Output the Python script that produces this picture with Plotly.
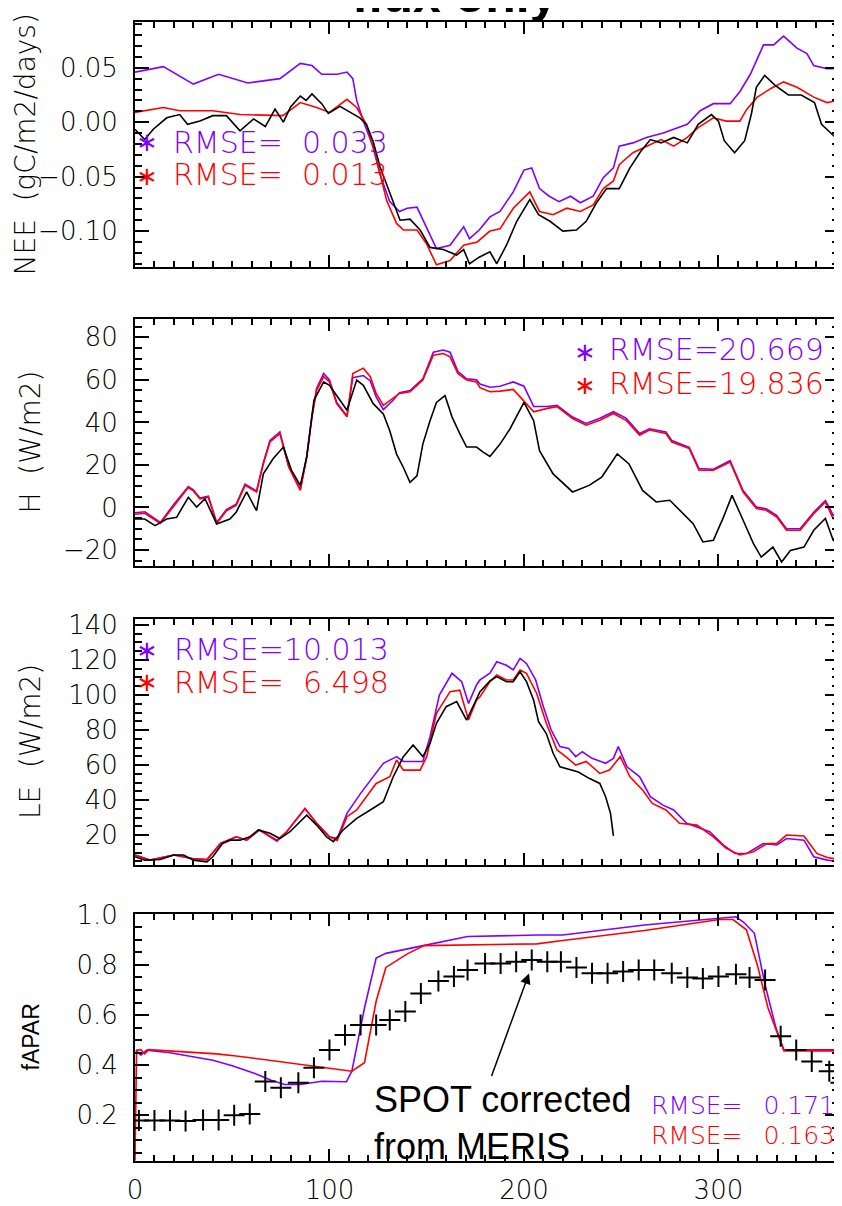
import plotly.graph_objects as go

# ---------------- data ----------------
# Panel 1: NEE (gC/m2/days)
nee_obs_day = [0, 5, 9.4, 16.3, 23, 27, 33.4, 40, 47, 54, 61, 67, 72, 76.3, 80, 85, 88, 91, 96, 99.4, 105.4,
               110.5, 115.6, 119, 122.5, 126, 129.4, 132.8, 136.3, 141.4, 146.6, 151.7, 158.5, 165.4, 169, 172,
               177, 182.5, 186, 191, 196.3, 203, 207.5, 213.4, 220, 227, 232, 237.3, 242.5, 249, 254.5, 260,
               265, 270.5, 277, 284, 289.6, 296.4, 300, 303, 308.3, 313.5, 317, 319.5, 323.8, 329, 336, 342.6,
               349.4, 353, 357.6, 362]
nee_obs = [-0.0065, -0.016, -0.0065, 0.004, 0.007, -0.002, 0.001, 0.006, 0.006, -0.008, 0.003, -0.004, 0.012,
           0.0, 0.014, 0.024, 0.020, 0.026, 0.017, 0.008, 0.0145, 0.009, 0.004, -0.002, -0.018, -0.041, -0.057,
           -0.072, -0.090, -0.089, -0.099, -0.115, -0.117, -0.122, -0.117, -0.130, -0.124, -0.119, -0.130,
           -0.113, -0.091, -0.071, -0.085, -0.091, -0.100, -0.099, -0.091, -0.074, -0.061, -0.061, -0.042,
           -0.027, -0.016, -0.019, -0.014, -0.019, -0.002, 0.007, 0.001, -0.017, -0.028, -0.017, 0.008, 0.032,
           0.043, 0.034, 0.025, 0.025, 0.018, -0.002, -0.010, -0.017]
nee_a_day = [0, 14.6, 30, 43, 58, 74.5, 85, 91, 96, 104, 109, 112, 114, 117.4, 122.5, 126, 131, 136, 140, 145,
             150, 155, 162, 169, 172, 177, 182.5, 187.7, 194.5, 200, 204, 208, 213, 218, 224, 229, 235.6,
             240.8, 246, 249, 256, 263, 271.6, 277, 284, 290.6, 297.4, 306, 311, 316.4, 323.2, 328.4, 333.5,
             340.4, 345.5, 349, 355.8, 362]
nee_a = [0.046, 0.051, 0.035, 0.044, 0.036, 0.040, 0.054, 0.052, 0.044, 0.044, 0.046, 0.040, 0.020, 0.001,
         -0.023, -0.048, -0.073, -0.082, -0.079, -0.078, -0.097, -0.116, -0.113, -0.096, -0.107, -0.099,
         -0.087, -0.082, -0.064, -0.044, -0.042, -0.061, -0.068, -0.073, -0.068, -0.074, -0.068, -0.051,
         -0.042, -0.022, -0.019, -0.014, -0.010, -0.0065, -0.002, 0.0105, 0.017, 0.017, 0.028, 0.044, 0.071,
         0.071, 0.079, 0.068, 0.063, 0.052, 0.049, 0.049]
nee_b_day = [0, 14.6, 23, 40, 54, 69.4, 76, 85, 93.4, 100, 109, 114, 119, 124, 129.4, 134.5, 138, 145, 150,
             155, 162, 169, 176, 182.5, 187.7, 194.5, 203, 208, 215, 222, 229, 235.6, 240.8, 246, 249, 256,
             263, 270.5, 277, 284, 289.6, 297.4, 304, 311, 314.6, 320, 327, 333.5, 340.4, 349, 355.8, 362]
nee_b = [0.009, 0.0135, 0.0105, 0.0105, 0.007, 0.006, 0.006, 0.018, 0.0135, 0.009, 0.021, 0.0135, -0.002,
         -0.033, -0.072, -0.093, -0.099, -0.099, -0.112, -0.131, -0.127, -0.113, -0.110, -0.100, -0.098,
         -0.079, -0.064, -0.082, -0.085, -0.079, -0.082, -0.076, -0.061, -0.054, -0.039, -0.028, -0.022,
         -0.016, -0.022, -0.014, -0.005, 0.004, 0.001, 0.001, 0.012, 0.023, 0.031, 0.037, 0.032, 0.023,
         0.018, 0.020]

# Panel 2: H (W/m2)
h_day = [0, 5.1, 13, 20, 27.4, 30, 33.4, 37.7, 42, 47, 52, 56.6, 62.5, 66, 69.4, 74.5, 79, 85, 88.3, 91, 93.4,
         97, 100, 103.7, 109, 112, 117.4, 121, 124, 127.7, 132.8, 136, 141.4, 148, 153.4, 158.5, 162, 166,
         170.5, 175.6, 177.4, 182.5, 187.7, 194.5, 200, 205, 212, 217, 225, 232, 239, 246, 252.5, 259.5,
         264.5, 273, 276, 285, 290, 297.4, 306, 312.7, 319.5, 324.6, 330, 335, 342, 349, 355, 359, 362]
h_b = [-3.2, -2.7, -7.5, 0.7, 9.4, 7.8, 4.0, 4.8, -7.5, -1.5, 1.0, 10.4, 7.3, 20.6, 30.8, 34.7, 19.0, 8.0,
       23.7, 42.6, 55.0, 61.5, 59.0, 48.8, 42.6, 63.0, 65.5, 61.5, 53.6, 48.0, 51.2, 53.6, 54.4, 59.9, 71.6,
       72.4, 70.8, 63.0, 59.9, 59.0, 56.3, 54.4, 54.7, 55.5, 50.0, 45.0, 46.6, 47.4, 41.8, 38.7, 41.0, 44.2,
       41.0, 34.0, 36.4, 34.8, 30.8, 27.7, 17.5, 17.5, 21.4, 7.3, -0.5, -1.3, -4.5, -10.7, -10.7, -2.9, 2.6,
       -5.2, -6.0]
h_a = [-2.5, -2.0, -7.0, 1.5, 9.8, 8.3, 4.5, 5.3, -7.0, -1.0, 1.5, 11.0, 7.8, 21.0, 31.5, 35.5, 19.5, 8.5,
       24.0, 43.0, 56.0, 63.0, 60.0, 49.5, 43.0, 61.0, 62.0, 59.5, 52.0, 46.0, 50.5, 54.0, 55.0, 60.5, 73.0,
       74.0, 73.0, 64.0, 60.5, 60.0, 58.0, 56.5, 57.0, 59.0, 57.0, 47.5, 47.5, 48.0, 42.5, 39.5, 42.0, 45.0,
       42.0, 34.8, 37.0, 35.5, 31.5, 28.3, 18.3, 18.0, 22.0, 8.0, 0.2, -0.6, -3.8, -10.0, -10.0, -2.2, 3.3,
       -3.6, -3.6]
h_obs_day = [0, 5, 10.3, 16.3, 21.4, 27.4, 31.7, 36, 42, 48.8, 52, 57.4, 62.5, 66, 71, 76.3, 80.5, 85, 88.3,
             92, 97, 100, 105.4, 109, 114, 117.4, 122.5, 127.7, 131, 134.5, 138, 141.4, 145, 148, 151.7, 155,
             159.4, 163, 167, 170.5, 175.6, 179, 182.5, 187.7, 192.8, 200, 205, 208, 215, 225, 233.5, 240,
             248, 254, 261, 268, 275, 280, 287, 292, 297.4, 302.6, 307, 312.7, 318, 322, 328, 332.5, 337, 344,
             349, 355, 359, 362]
h_obs = [-5.4, -5.4, -8.5, -5.4, -4.6, 4.8, 0.2, 4.1, -7.7, -5.4, -2.2, 7.3, -1.5, 15.8, 22.9, 28.4, 17.4,
         10.4, 23.7, 50.4, 59.0, 57.4, 50.4, 45.7, 59.9, 57.4, 48.8, 44.0, 36.1, 25.1, 18.8, 11.8, 14.9, 29.8,
         40.8, 49.4, 52.6, 42.6, 34.7, 28.4, 28.4, 26.0, 24.0, 29.8, 36.9, 49.4, 40.8, 26.7, 15.8, 7.3, 10.4,
         14.3, 25.2, 20.5, 8.0, 2.6, 3.4, -1.3, -7.6, -16.2, -15.4, -4.5, 5.7, -6.0, -17.0, -23.3, -18.6,
         -25.6, -20.2, -18.6, -10.7, -5.2, -15.4, -17.0]

# Panel 3: LE (W/m2)
le_obs_day = [0, 5, 13, 20, 25, 30, 37, 40, 45, 49, 54, 59, 63.4, 69.4, 74.5, 79.7, 88.3, 93.4, 98.5, 102, 107,
              114, 121, 127.7, 132.8, 138, 143, 148, 151.7, 155, 160, 165.4, 170.5, 175.6, 177.4, 182.5, 186,
              191, 194.5, 198, 201.3, 205, 207.5, 211.5, 215, 218.5, 225, 228, 233.5, 239, 242, 244.5, 246]
le_obs = [7.6, 5.7, 6.0, 8.6, 8.6, 5.7, 4.7, 7.6, 15.2, 17.1, 17.1, 19.0, 22.9, 21.0, 18.0, 21.9, 31.4, 25.7,
          19.0, 16.2, 22.9, 29.5, 34.3, 39.0, 53.3, 64.8, 71.4, 64.8, 72.4, 83.8, 93.3, 96.2, 85.7, 98.0,
          101.9, 108.0, 110.5, 107.6, 107.6, 113.3, 107.6, 97.0, 84.8, 78.0, 66.7, 59.0, 57.1, 56.0, 52.4, 49.5,
          41.9, 32.4, 19.5]
le_b_day = [0, 7.7, 20, 30, 37, 44, 52, 57.4, 64, 73, 78, 87.4, 93.4, 100, 104, 109, 114, 119, 124, 131, 134.5,
            138, 146.6, 150, 155, 162, 167, 171.5, 175.6, 177.4, 182.5, 186, 191, 194.5, 198, 201.3, 206.5,
            211.5, 217, 221.5, 226.6, 232, 239, 244, 249.5, 254.5, 261, 266, 273, 280, 289, 297.4, 304, 311,
            318, 325, 330, 335, 344, 350.6, 356, 362]
le_b = [8.6, 5.7, 8.6, 6.5, 6.0, 15.2, 19.0, 17.1, 22.9, 17.1, 21.9, 35.2, 26.7, 19.0, 17.0, 30.5, 34.3, 41.9,
        49.5, 53.3, 62.9, 57.1, 57.1, 64.8, 89.5, 101.9, 102.8, 85.7, 97.0, 99.0, 107.6, 111.4, 108.6, 108.6,
        114.3, 112.4, 101.0, 83.8, 68.6, 64.8, 60.0, 62.0, 55.2, 57.1, 64.8, 53.3, 45.7, 38.1, 34.3, 26.7,
        25.7, 19.0, 12.4, 8.6, 10.5, 15.2, 15.2, 20.0, 19.5, 9.5, 7.2, 6.0]
le_a_day = [0, 7.7, 20, 30, 37, 44, 52, 57.4, 64, 73, 78, 87.4, 93.4, 100, 104, 109, 116, 121, 127.7, 134.5,
            138, 148, 151.7, 156.5, 163, 168, 171.5, 175.6, 177.4, 182.5, 186, 191, 194.5, 198, 201.3, 206, 210,
            214, 218.5, 223, 226.6, 230, 235, 242, 246, 248.5, 253, 259.5, 265, 271.5, 277, 283.7, 295.5,
            302.6, 308.5, 314.6, 323, 330, 335, 344, 349, 356, 362]
le_a = [8.6, 5.7, 8.6, 6.5, 6.0, 15.2, 19.0, 17.1, 22.9, 16.5, 21.9, 35.2, 26.7, 19.0, 18.0, 32.4, 43.8, 51.4,
        61.0, 64.8, 62.0, 62.0, 76.2, 100.0, 112.4, 107.6, 95.2, 105.7, 108.6, 112.4, 119.0, 117.0, 114.3,
        120.9, 118.0, 108.6, 93.3, 80.0, 70.5, 69.5, 64.8, 67.6, 63.8, 61.0, 63.8, 70.5, 59.0, 53.3, 41.9,
        37.1, 34.3, 26.7, 21.9, 14.3, 9.5, 9.5, 15.2, 14.3, 18.0, 17.1, 7.6, 5.7, 4.8]

# Panel 4: fAPAR
fa_a_day = [0.5, 3, 6, 18, 40, 50, 62, 70, 77, 85, 96, 108.7, 111.5, 118, 124, 129, 145.7, 171, 206.6, 220, 262,
            289.6, 309, 313, 318.5, 324, 329.6, 333.7, 362]
fa_a = [0.46, 0.44, 0.46, 0.45, 0.42, 0.398, 0.366, 0.34, 0.323, 0.323, 0.336, 0.334, 0.376, 0.628, 0.827,
        0.846, 0.873, 0.913, 0.919, 0.919, 0.959, 0.979, 0.992, 0.97, 0.926, 0.72, 0.548, 0.461, 0.461]
fa_b_day = [0, 0.8, 3, 5, 7, 30, 42, 52, 61, 96, 111.5, 118, 124, 129, 140, 148.7, 206.6, 220, 262, 300.5, 307.5,
            314.4, 320, 325.5, 331, 333.7, 362]
fa_b = [0.02, 0.46, 0.462, 0.445, 0.462, 0.452, 0.445, 0.437, 0.428, 0.39, 0.376, 0.41, 0.655, 0.79, 0.844,
        0.877, 0.884, 0.897, 0.937, 0.981, 0.981, 0.94, 0.80, 0.628, 0.508, 0.457, 0.457]
fa_obs_day = [2, 10, 18, 26, 35, 43, 51, 59, 67, 75, 84, 92, 100, 108, 116, 124, 131, 139, 147, 156, 164, 171,
              180, 188, 196, 204, 212, 219, 227, 235, 243, 251, 259, 267, 276, 284, 292, 300, 309, 316, 324,
              332, 340, 348, 357, 363]
fa_obs = [0.18, 0.18, 0.18, 0.178, 0.182, 0.182, 0.2, 0.205, 0.335, 0.31, 0.33, 0.39, 0.461, 0.52, 0.56, 0.56,
          0.58, 0.614, 0.686, 0.736, 0.754, 0.78, 0.806, 0.806, 0.813, 0.82, 0.813, 0.813, 0.79, 0.767, 0.767,
          0.774, 0.78, 0.78, 0.767, 0.75, 0.746, 0.754, 0.763, 0.75, 0.74, 0.515, 0.461, 0.415, 0.376, 0.33]

x_ticks = [0, 100, 200, 300]
rmse_labels = [["RMSE=\u20070.033", "RMSE=\u20070.013"],
               ["RMSE=20.669", "RMSE=19.836"],
               ["RMSE=10.013", "RMSE=\u20076.498"],
               ["RMSE=\u2007\u20090.171", "RMSE=\u2007\u20090.163"]]
y_titles = ["NEE\u00a0\u00a0(gC/m2/days)", "H\u00a0\u00a0(W/m2)", "LE\u00a0\u00a0(W/m2)", "fAPAR"]

# ---------------- styling ----------------
PAGE_OFF = 8            # default body margin of the html page
W, H = 842 - PAGE_OFF, 1206 - PAGE_OFF
PURPLE = "#7f00ff"
RED = "#ff0000"
HFONT = "DejaVu Sans"
AFONT = "Liberation Sans, Arial, sans-serif"
X_LEFT, X_RIGHT = 135, 839
PANELS = [(22, 267), (319, 566), (619, 865), (914, 1161)]
Y_RANGES = [[-0.133, 0.092], [-27.5, 88.6], [2.9, 143.4], [0.018, 1.003]]
Y_DTICK = [0.05, 20, 20, 0.2]
Y_MINOR = [0.01, 5, 5, 0.05]
Y_FMT = [".2f", "d", "d", ".1f"]


def fx(p):
    return (p - PAGE_OFF) / W


def fy(p):
    return 1 - (p - PAGE_OFF) / H


fig = go.Figure()
line_w = 1.6
series = [
    [(nee_a_day, nee_a, PURPLE), (nee_b_day, nee_b, RED), (nee_obs_day, nee_obs, "black")],
    [(h_day, h_a, PURPLE), (h_day, h_b, RED), (h_obs_day, h_obs, "black")],
    [(le_a_day, le_a, PURPLE), (le_b_day, le_b, RED), (le_obs_day, le_obs, "black")],
    [(fa_a_day, fa_a, PURPLE), (fa_b_day, fa_b, RED)],
]
for i, group in enumerate(series):
    sfx = "" if i == 0 else str(i + 1)
    for xs, ys, col in group:
        fig.add_trace(go.Scatter(x=xs, y=ys, mode="lines", line=dict(color=col, width=line_w),
                                 xaxis="x" + sfx, yaxis="y" + sfx, showlegend=False, hoverinfo="skip"))
fig.add_trace(go.Scatter(x=fa_obs_day, y=fa_obs, mode="markers", xaxis="x4", yaxis="y4", showlegend=False,
                         marker=dict(symbol="cross-thin-open", size=15, color="black",
                                     line=dict(color="black", width=2)), hoverinfo="skip"))

tick_font = dict(family=HFONT, size=26, color="black", weight=300)
layout = dict(width=W, height=H, margin=dict(l=0, r=0, t=0, b=0, autoexpand=False), paper_bgcolor="white",
              plot_bgcolor="white", showlegend=False)
for i, (top, bot) in enumerate(PANELS):
    sfx = "" if i == 0 else str(i + 1)
    layout["xaxis" + sfx] = dict(
        domain=[fx(X_LEFT), fx(X_RIGHT)], range=[0, 362], anchor="y" + sfx,
        showline=True, linecolor="black", linewidth=2, mirror="allticks",
        ticks="inside", ticklen=12, tickwidth=1.5, tickcolor="black",
        tickvals=x_ticks, showgrid=False, zeroline=False, automargin=False,
        minor=dict(ticks="inside", dtick=10, tick0=0, ticklen=6, tickwidth=1.5, tickcolor="black",
                   showgrid=False),
        showticklabels=(i == 3), tickfont=tick_font, ticklabelstandoff=5)
    layout["yaxis" + sfx] = dict(
        domain=[fy(bot), fy(top)], range=Y_RANGES[i], anchor="x" + sfx,
        showline=True, linecolor="black", linewidth=2, mirror="allticks",
        ticks="inside", ticklen=14, tickwidth=1.5, tickcolor="black", automargin=False,
        dtick=Y_DTICK[i], tick0=0, tickformat=Y_FMT[i], showgrid=False, zeroline=False,
        minor=dict(ticks="inside", dtick=Y_MINOR[i], ticklen=7, tickwidth=1.5, tickcolor="black",
                   showgrid=False),
        tickfont=tick_font, ticklabelstandoff=10)
fig.update_layout(**layout)

ann = []
# title (mostly above the visible page, as in the reference)
ann.append(dict(text="<b>flux only</b>", x=fx(455), y=fy(25), xref="paper", yref="paper",
                xanchor="center", yanchor="bottom", showarrow=False,
                font=dict(family=AFONT, size=50, color="black")))
# y titles
title_x = [25, 30, 30, 30]
for i, (top, bot) in enumerate(PANELS):
    ann.append(dict(text=y_titles[i], x=fx(title_x[i]), y=fy((top + bot) / 2), xref="paper", yref="paper",
                    xanchor="center", yanchor="middle", textangle=-90, showarrow=False,
                    font=dict(family=(AFONT if i == 3 else HFONT), size=(23 if i == 3 else 28),
                              color="black", weight=(400 if i == 3 else 300))))
# RMSE labels with star markers
rmse_pos = [((147, 142), (172, 142), (147, 176), (172, 174)),
            ((585, 352), (608, 350), (585, 385), (608, 383)),
            ((147, 650), (173, 649), (147, 682), (173, 682))]
for i, (sa, ta, sb, tb) in enumerate(rmse_pos):
    for (s, t, col, txt) in ((sa, ta, PURPLE, rmse_labels[i][0]), (sb, tb, RED, rmse_labels[i][1])):
        ann.append(dict(text="\u2217", x=fx(s[0]), y=fy(s[1]), xref="paper", yref="paper",
                        xanchor="center", yanchor="middle", showarrow=False, borderpad=0,
                        font=dict(family=HFONT, size=26, color=col)))
        ann.append(dict(text=txt, x=fx(t[0]), y=fy(t[1]), xref="paper", yref="paper",
                        xanchor="left", yanchor="middle", showarrow=False, borderpad=0,
                        font=dict(family=HFONT, size=30, color=col, weight=300)))
for txt, col, py in ((rmse_labels[3][0], PURPLE, 1105), (rmse_labels[3][1], RED, 1135)):
    ann.append(dict(text=txt, x=fx(650), y=fy(py), xref="paper", yref="paper", xanchor="left",
                    yanchor="middle", showarrow=False, borderpad=0,
                    font=dict(family=HFONT, size=25, color=col, weight=300)))
# SPOT annotation
ann.append(dict(text="SPOT corrected<br>from MERIS", x=fx(372), y=fy(1077), xref="paper", yref="paper",
                xanchor="left", yanchor="top", align="left", showarrow=False,
                font=dict(family=AFONT, size=36, color="black")))
ann.append(dict(text="", x=202.6, y=0.766, xref="x4", yref="y4", ax=-38, ay=104, showarrow=True,
                arrowhead=2, arrowsize=1.4, arrowwidth=1.5, arrowcolor="black"))
fig.update_layout(annotations=ann)

fig.write_html("out.html")
